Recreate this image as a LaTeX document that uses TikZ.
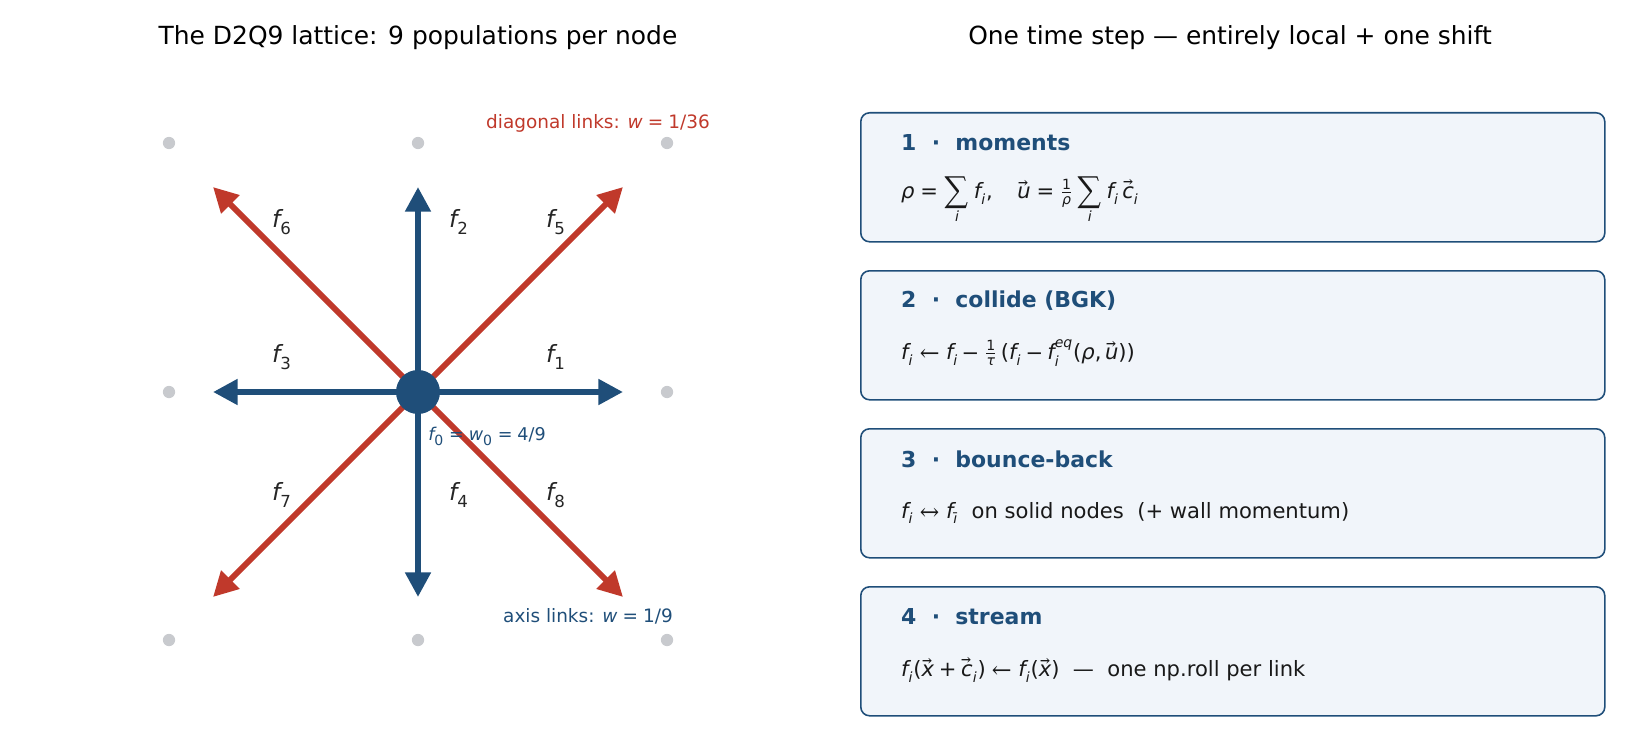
\documentclass[tikz,border=0pt]{standalone}
\usepackage{fontspec}
\usepackage{unicode-math}
\setmainfont{DejaVu Sans}
\setmathfont{DejaVu Math TeX Gyre}
\setmathfont[range=it/{latin,Latin,greek,Greek}]{DejaVu Sans Oblique}
\setmathfont[range=up/{num}]{DejaVu Sans}
\setmathfont[range={"003D,"002B,"2212,"002F,"0028,"0029,"002C}]{DejaVu Sans}
\usetikzlibrary{arrows.meta,positioning}
\definecolor{lb_blue}{HTML}{1F4E79}
\definecolor{lb_red}{HTML}{C0392B}
\definecolor{lb_grey}{HTML}{C8CACE}
\definecolor{lb_fill}{HTML}{F1F5FA}
\tikzset{
  axis/.style={lb_blue, line width=3.4pt, -{Triangle[width=14pt,length=14pt]}},
  diag/.style={lb_red, line width=3.4pt, -{Triangle[width=14pt,length=14pt]}},
  site/.style={circle, fill=lb_grey, inner sep=0pt, minimum size=7pt},
  flab/.style={font=\fontsize{13.5}{15}\selectfont, text=black!85},
  stepbox/.style={draw=lb_blue, line width=0.9pt, fill=lb_fill, rounded corners=5pt,
    minimum width=744*0.02cm, minimum height=129*0.02cm, anchor=north west},
  head/.style={anchor=west, text=lb_blue, font=\bfseries\fontsize{12.5}{14}\selectfont},
  body/.style={anchor=west, text=black!90, font=\fontsize{12}{14}\selectfont}
}
\begin{document}
\begin{tikzpicture}[x=0.02cm, y=-0.02cm]
  \useasboundingbox (0,0) rectangle (1650,750);
  % titles
  \node[font=\fontsize{14.2}{16}\selectfont] (t1) at (418,38) {The D2Q9 lattice: 9 populations per node};
  \node[font=\fontsize{14.2}{16}\selectfont] (t2) at (1230,38) {One time step — entirely local + one shift};
  % lattice sites
  \foreach \i/\x in {a/169,b/418,c/667}
    \foreach \j/\y in {1/143,2/392,3/640}
      \node[site] (s\i\j) at (\x,\y) {};
  % link ends
  \coordinate (e1) at (623,392);
  \coordinate (e2) at (418,187);
  \coordinate (e3) at (213,392);
  \coordinate (e4) at (418,597);
  \coordinate (e5) at (623,187);
  \coordinate (e6) at (213,187);
  \coordinate (e7) at (213,597);
  \coordinate (e8) at (623,597);
  \coordinate (o) at (418,392);
  \foreach \k in {5,6,7,8}
    \draw[diag] (o) -- (e\k);
  \foreach \k in {1,2,3,4}
    \draw[axis] (o) -- (e\k);
  \node[circle, fill=lb_blue, minimum size=44*0.02cm, inner sep=0pt] (c) at (o) {};
  % population labels
  \node[flab] (f6) at (282,222) {$f_6$};
  \node[flab] (f2) at (459,222) {$f_2$};
  \node[flab] (f5) at (556,222) {$f_5$};
  \node[flab] (f3) at (282,357) {$f_3$};
  \node[flab] (f1) at (556,357) {$f_1$};
  \node[flab] (f7) at (282,495) {$f_7$};
  \node[flab] (f4) at (459,495) {$f_4$};
  \node[flab] (f8) at (556,495) {$f_8$};
  \node[text=lb_blue, font=\fontsize{10}{12}\selectfont] (f0) at (487,436) {$f_0=w_0=4/9$};
  \node[text=lb_red, font=\fontsize{10.5}{12}\selectfont] (dl) at (598,123) {diagonal links: $w=1/36$};
  \node[text=lb_blue, font=\fontsize{10.5}{12}\selectfont] (al) at (588,616) {axis links: $w=1/9$};
  % steps
  \node[stepbox] (b1) at (860,112) {};
  \node[head] (h1) at (895,143) {1 \ · \ moments};
  \node[body] (m1) at (895,200) {$\displaystyle\rho=\sum_i f_i,\quad \vec u=\tfrac{1}{\rho}\sum_i f_i\,\vec c_i$};
  \node[stepbox] (b2) at (860,270) {};
  \node[head] (h2) at (895,301) {2 \ · \ collide (BGK)};
  \node[body] (m2) at (895,353) {$f_i\leftarrow f_i-\frac{1}{\tau}\,(f_i-f_i^{eq}(\rho,\vec u))$};
  \node[stepbox] (b3) at (860,428) {};
  \node[head] (h3) at (895,459) {3 \ · \ bounce-back};
  \node[body] (m3) at (895,513) {$f_i\leftrightarrow f_{\bar\imath}$\ \ on solid nodes \ (+ wall momentum)};
  \node[stepbox] (b4) at (860,586) {};
  \node[head] (h4) at (895,617) {4 \ · \ stream};
  \node[body] (m4) at (895,670) {$f_i(\vec x+\vec c_i)\leftarrow f_i(\vec x)$ \ — \ one np.roll per link};
\end{tikzpicture}
\end{document}
